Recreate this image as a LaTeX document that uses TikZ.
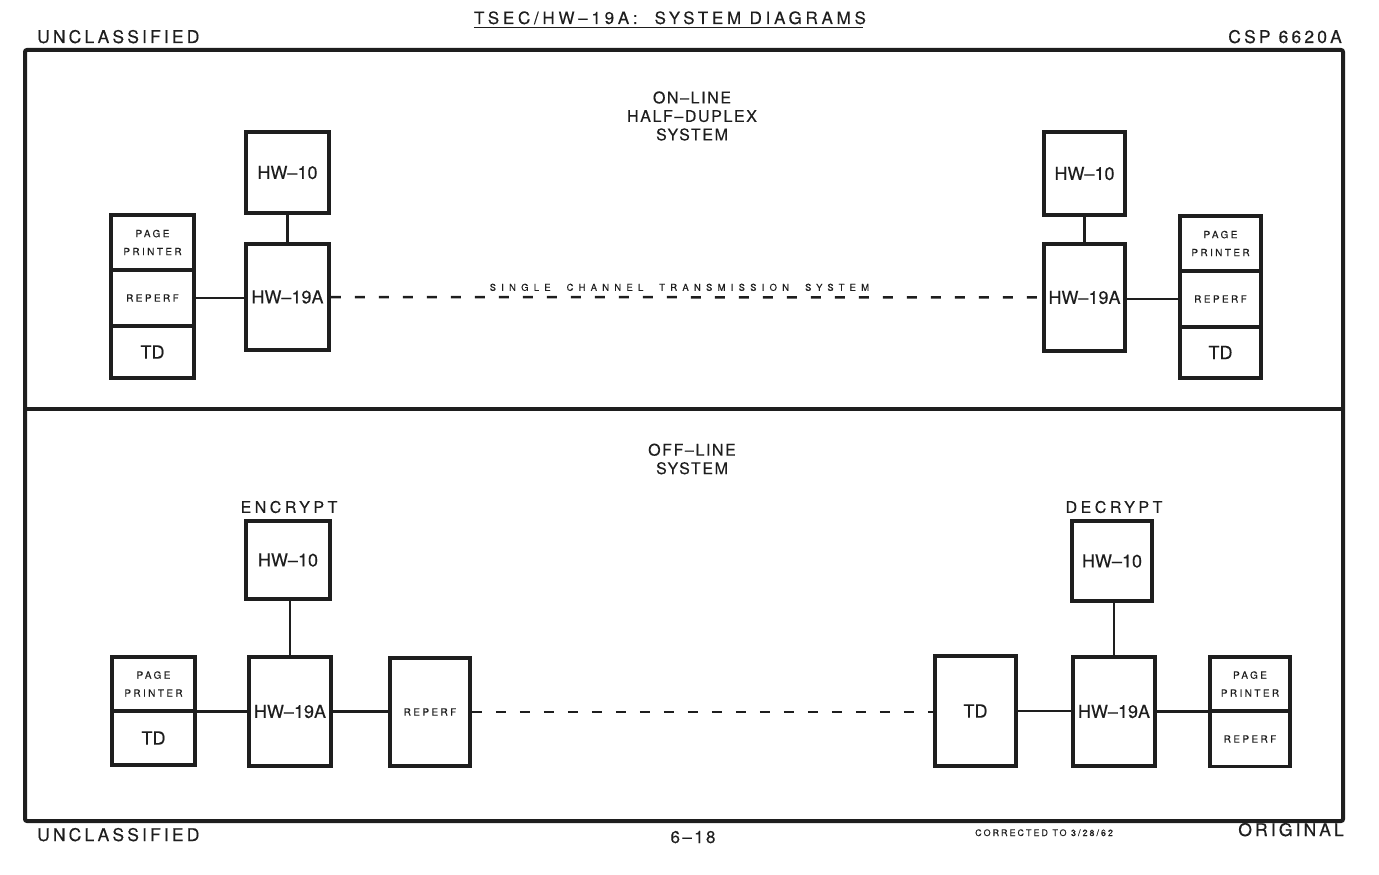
\documentclass[tikz,border=0pt]{standalone}
\usepackage{fontspec}
\setmainfont{TeX Gyre Heros}
\definecolor{inkc}{HTML}{1E1E1E}
\newcommand\boxfont{\fontsize{18}{20}\selectfont\addfontfeatures{FakeBold=0.25}}
\newcommand\cellfont{\fontsize{10}{18}\selectfont\addfontfeatures{LetterSpace=24,FakeBold=0.2}}
\newcommand\hdrfont{\fontsize{17.5}{18}\selectfont\addfontfeatures{LetterSpace=18,FakeBold=0.4}}
\newcommand\titlefont{\fontsize{17}{18}\selectfont\addfontfeatures{LetterSpace=22,FakeBold=0.3}}
\newcommand\sectfont{\fontsize{16}{18.5}\selectfont\addfontfeatures{LetterSpace=10,FakeBold=0.25}}
\newcommand\tagfont{\fontsize{16}{18}\selectfont\addfontfeatures{LetterSpace=22,FakeBold=0.25}}
\newcommand\chanfont{\fontsize{9.5}{10}\selectfont\addfontfeatures{LetterSpace=55,FakeBold=0.2}}
\newcommand\corrfont{\fontsize{9}{10}\selectfont\addfontfeatures{LetterSpace=22,FakeBold=0.2}}
\newcommand\pagefont{\fontsize{17}{18}\selectfont\addfontfeatures{LetterSpace=14,FakeBold=0.3}}
\newcommand\wsp{\hspace{16pt}}
\begin{document}
\begin{tikzpicture}[x=1pt,y=-1pt,
  box/.style={draw=inkc, line width=3.6pt, inner sep=0pt, align=center, text=inkc, font=\boxfont},
  cell/.style={box, font=\cellfont},
  wire/.style={draw=inkc, line width=2.5pt},
  dashwire/.style={wire, dash pattern=on 10pt off 14pt},
  txt/.style={inner sep=0pt, text=inkc, align=center}
]
\useasboundingbox (0,0) rectangle (1379,875);
% frame
\draw[draw=inkc, line width=4pt, rounded corners=2pt] (25,50) rectangle (1343,821);
\draw[draw=inkc, line width=4pt] (25,409) -- (1343,409);

% header
\node[txt, font=\hdrfont, anchor=base west] (uncA) at (37,43) {UNCLASSIFIED};
\node[txt, font=\titlefont, anchor=base] (title) at (670,24) {TSEC/HW–19A:\ \ SYSTEM DIAGRAMS};
\draw[draw=inkc, line width=1.2pt] ([yshift=-3.5pt]title.base west) -- ([yshift=-3.5pt,xshift=-3pt]title.base east);
\node[txt, font=\hdrfont, anchor=base east] (csp) at (1342,43) {CSP 6620A};

% footer
\node[txt, font=\hdrfont, anchor=base west] (uncB) at (37,841) {UNCLASSIFIED};
\node[txt, font=\pagefont, anchor=base] (pg) at (693,843) {6–18};
\node[txt, font=\corrfont, anchor=base west] (corr) at (975,836) {CORRECTED TO 3/28/62};
\node[txt, font=\hdrfont, anchor=base east] (orig) at (1344,836) {ORIGINAL};

% section titles
\node[txt, font=\sectfont] (sA) at (692,116) {ON–LINE\\HALF–DUPLEX\\SYSTEM};
\node[txt, font=\sectfont] (sB) at (692,459) {OFF–LINE\\SYSTEM};

% ---------- on-line, left
\node[box, minimum width=83pt, minimum height=81pt] (tenA) at (287.5,172.5) {HW–10};
\node[box, minimum width=83pt, minimum height=106pt] (nineA) at (287.5,297) {HW–19A};
\node[cell, minimum width=83pt, minimum height=55pt] (ppA) at (152.5,242.5) {PAGE\\PRINTER};
\node[cell, minimum width=83pt, minimum height=56pt] (rpA) at (152.5,298) {REPERF};
\node[box, minimum width=83pt, minimum height=52pt] (tdA) at (152.5,352) {TD};
% on-line, right
\node[box, minimum width=81pt, minimum height=83pt] (tenB) at (1084.5,173.5) {HW–10};
\node[box, minimum width=81pt, minimum height=107pt] (nineB) at (1084.5,297.5) {HW–19A};
\node[cell, minimum width=81pt, minimum height=55pt] (ppB) at (1220.5,243.5) {PAGE\\PRINTER};
\node[cell, minimum width=81pt, minimum height=56pt] (rpB) at (1220.5,299) {REPERF};
\node[box, minimum width=81pt, minimum height=51pt] (tdB) at (1220.5,352.5) {TD};

\draw[wire] (tenA.south) -- (nineA.north);
\draw[wire] (tenB.south) -- (nineB.north);
\draw[wire] (rpA.east) -- (rpA.east -| nineA.west);
\draw[wire] (nineB.east |- rpB.west) -- (rpB.west);
\draw[dashwire] (nineA.east) -- node[pos=0.49, above=5pt, txt, font=\chanfont] (chan) {SINGLE\wsp CHANNEL\wsp TRANSMISSION\wsp SYSTEM} (nineB.west);

% ---------- off-line, encrypt
\node[txt, font=\tagfont] (enc) at (289,507) {ENCRYPT};
\node[box, minimum width=84pt, minimum height=78pt] (tenC) at (288,560) {HW–10};
\node[box, minimum width=82pt, minimum height=109pt] (nineC) at (290,711.5) {HW–19A};
\node[cell, minimum width=83pt, minimum height=54pt] (ppC) at (153.5,684) {PAGE\\PRINTER};
\node[box, minimum width=83pt, minimum height=54pt] (tdC) at (153.5,738) {TD};
\node[cell, minimum width=80pt, minimum height=108pt] (rpC) at (430,712) {REPERF};
% off-line, decrypt
\node[txt, font=\tagfont] (dec) at (1114,507) {DECRYPT};
\node[box, minimum width=80pt, minimum height=80pt] (tenD) at (1112,561) {HW–10};
\node[box, minimum width=82pt, minimum height=109pt] (nineD) at (1114,711.5) {HW–19A};
\node[box, minimum width=81pt, minimum height=110pt] (tdD) at (975.5,711) {TD};
\node[cell, minimum width=80pt, minimum height=54pt] (ppD) at (1250,684) {PAGE\\PRINTER};
\node[cell, minimum width=80pt, minimum height=55pt] (rpD) at (1250,739) {REPERF};

\draw[wire] (tenC.south -| nineC.north) -- (nineC.north);
\draw[wire] (tenD.south -| nineD.north) -- (nineD.north);
\draw[wire] (nineC.west) -- (nineC.west -| ppC.east);
\draw[wire] (nineC.east) -- (nineC.east -| rpC.west);
\draw[dashwire] (rpC.east) -- (rpC.east -| tdD.west);
\draw[wire] (tdD.east) -- (tdD.east -| nineD.west);
\draw[wire] (nineD.east) -- (nineD.east -| ppD.west);
\end{tikzpicture}
\end{document}
